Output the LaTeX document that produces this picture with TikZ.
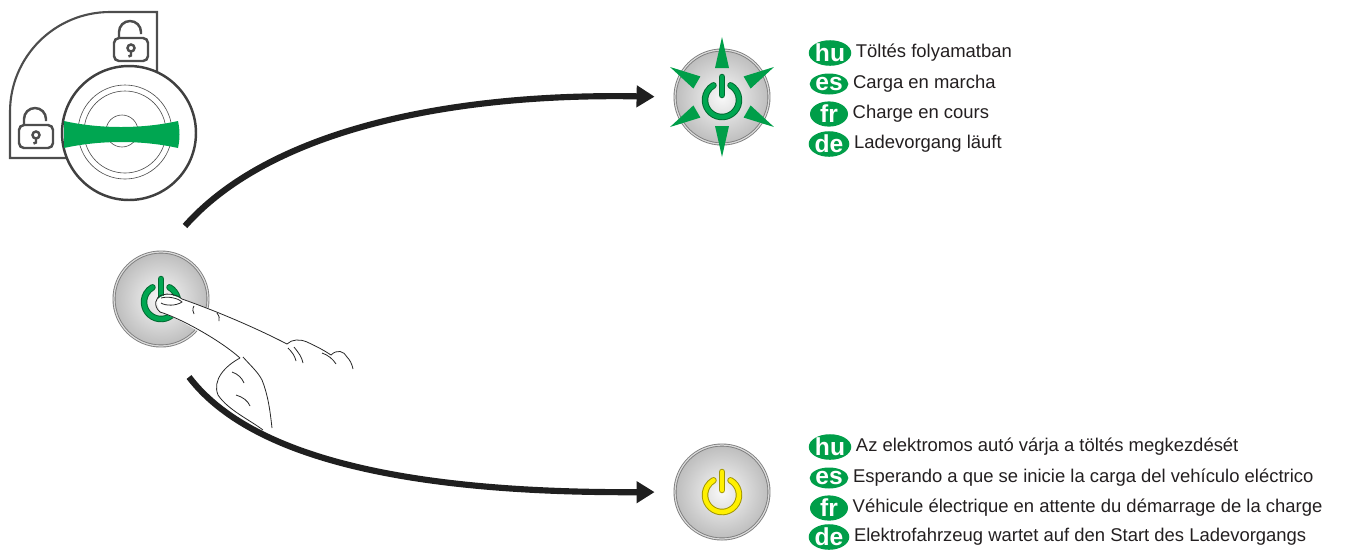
\documentclass[tikz,border=0pt]{standalone}
\usepackage{fontspec}
\setmainfont{Liberation Sans}
\usetikzlibrary{arrows.meta, positioning, shapes.geometric}
\definecolor{chargegreen}{RGB}{0, 158, 73}
\definecolor{keygreen}{RGB}{0, 166, 81}
\definecolor{darkgreen}{RGB}{0, 105, 48}
\definecolor{waityellow}{RGB}{255, 240, 0}
\definecolor{darkyellow}{RGB}{160, 148, 0}
\definecolor{textgray}{RGB}{35, 31, 32}
\definecolor{linegray}{RGB}{77, 77, 77}
\definecolor{ringgray}{RGB}{125, 125, 125}
\tikzset{
  flowarrow/.style={-{Triangle[length=3.6mm, width=4.2mm]}, line width=3.5pt, black!88},
  button/.style={circle, minimum size=1.88cm, inner sep=0pt, draw=ringgray, line width=0.5pt,
    double=gray!30, double distance=0.7pt, inner color=gray!5, outer color=gray!52},
  pwrgreen/.style={draw=darkgreen, double=keygreen, line width=0.55pt, double distance=2.6pt, line cap=round},
  pwryellow/.style={draw=darkyellow, double=waityellow, line width=0.55pt, double distance=2.6pt, line cap=round},
  keyline/.style={draw=linegray, line width=1.2pt},
  lockline/.style={draw=linegray, line width=1.4pt},
  thinring/.style={draw=linegray, line width=0.35pt},
  handline/.style={draw=black!85, line width=0.45pt},
  badge/.style={ellipse, fill=chargegreen, minimum width=0.76cm, minimum height=0.42cm, inner sep=0pt,
    text=white, font=\fontsize{14}{14}\selectfont\bfseries},
  caption/.style={inner sep=0pt, text=textgray, font=\fontsize{10.5}{12}\selectfont},
  padlock/.pic={
    \draw[lockline, rounded corners=0.1cm] (-17,-11) rectangle (17,12);
    \draw[lockline] (-12,-11) -- (-12,-17) arc[start angle=180, end angle=360, radius=11] -- (10,-15);
    \draw[lockline] (0,-1) circle[radius=3.5];
    \draw[lockline] (0,2.5) -- (0,6.5) -- (-2.5,7.5);
  }
}
\begin{document}
\begin{tikzpicture}[x=0.02cm, y=-0.02cm]
    \useasboundingbox (0,0) rectangle (1345,549);

    % key switch with lock positions
    \draw[keyline] (157,72) -- (157,12) -- (110,12) arc[start angle=-90, end angle=-180, radius=100] -- (10,158) -- (67,158);
    \pic at (131,49) {padlock};
    \pic at (36,136) {padlock};
    \node (dial) [circle, draw=black!75, line width=1.4pt, fill=white, minimum size=2.68cm, inner sep=0pt] at (129,133) {};
    \draw[thinring] (125,132) circle[radius=47];
    \draw[thinring] (125,132) circle[radius=41];
    \draw[thinring] (122,131) circle[radius=16];
    \fill[keygreen] (64,121) .. controls (100,129) and (142,129) .. (178,121)
        .. controls (180,130) and (180,139) .. (178,148)
        .. controls (142,140) and (100,140) .. (64,148) -- cycle;

    % buttons
    \node (start) [button] at (161,299) {};
    \node (glow) [button] at (722,97) {};
    \node (wait) [button] at (722,492) {};

    \draw[pwrgreen] (start.center) ++(8.5,-11.7) arc[start angle=-60, end angle=240, radius=17];
    \draw[pwrgreen] (start.center) ++(0,-20) -- ++(0,18);
    \draw[pwrgreen] (glow.center) ++(8.5,-11.7) arc[start angle=-60, end angle=240, radius=17];
    \draw[pwrgreen] (glow.center) ++(0,-20) -- ++(0,18);
    \draw[pwryellow] (wait.center) ++(8.5,-11.7) arc[start angle=-60, end angle=240, radius=17];
    \draw[pwryellow] (wait.center) ++(0,-20) -- ++(0,18);

    % light rays around the charging button
    \foreach \a in {30,90,...,330}
        \fill[chargegreen] [shift={(glow.center)}, rotate=\a] (60,0) -- (29,7) -- (29,-7) -- cycle;

    % hand pressing the button
    \fill[white] (157,302) .. controls (158,294) and (172,293) .. (182,299)
        .. controls (230,315) and (270,334) .. (290,342) -- (307,342) -- (352,367)
        -- (335,400) -- (262,430)
        .. controls (240,418) and (212,400) .. (218,380)
        .. controls (222,368) and (234,361) .. (240,358)
        .. controls (215,342) and (180,318) .. (160,312) -- cycle;
    \draw[handline] (160,312) .. controls (153,306) and (155,297) .. (162,295)
        .. controls (168,293) and (176,294) .. (182,299)
        .. controls (222,313) and (262,331) .. (287,344);
    \draw[handline] (161,298) .. controls (168,296) and (178,298) .. (182,302)
        .. controls (176,306) and (166,306) .. (161,303);
    \draw[handline] (160,312) .. controls (180,318) and (220,340) .. (240,358);
    \draw[handline] (287,344) .. controls (292,339) and (300,339) .. (307,342)
        .. controls (318,347) and (325,351) .. (331,355)
        .. controls (337,349) and (344,351) .. (347,357)
        .. controls (350,360) and (352,364) .. (353,369);
    \draw[handline] (240,358) .. controls (225,366) and (212,380) .. (218,395)
        .. controls (228,410) and (250,420) .. (263,430);
    \draw[handline] (243,357) .. controls (250,365) and (258,372) .. (262,380)
        .. controls (268,395) and (270,410) .. (272,428);
    \draw[handline] (194,306) .. controls (192,309) and (193,312) .. (194,314);
    \draw[handline] (217,313) .. controls (219,316) and (220,318) .. (219,321);
    \draw[handline] (288,348) .. controls (292,352) and (295,356) .. (296,361);
    \draw[handline] (294,347) .. controls (298,352) and (302,357) .. (303,363);
    \draw[handline] (322,353) .. controls (328,355) and (333,359) .. (336,364);
    \draw[handline] (232,372) .. controls (238,374) and (242,378) .. (244,383);
    \draw[handline] (236,395) .. controls (243,397) and (248,401) .. (250,406);

    % state transitions
    \coordinate (upstart) at (185,226);
    \coordinate (downstart) at (189,377);
    \draw[flowarrow, shorten >=0.4cm] (upstart) .. controls (270,130) and (450,93) .. (glow.west);
    \draw[flowarrow, shorten >=0.4cm] (downstart) .. controls (260,470) and (450,493) .. (wait.west);

    % charging in progress
    \node (hu1) [badge] at (830,53) {hu};
    \node (es1) [badge] at (829,84) {es};
    \node (fr1) [badge] at (829,114) {fr};
    \node (de1) [badge] at (829,144) {de};
    \node [caption, right=0.08cm of hu1] {Töltés folyamatban};
    \node [caption, right=0.08cm of es1] {Carga en marcha};
    \node [caption, right=0.08cm of fr1] {Charge en cours};
    \node [caption, right=0.08cm of de1] {Ladevorgang läuft};

    % waiting for the vehicle
    \node (hu2) [badge] at (830,447) {hu};
    \node (es2) [badge] at (829,478) {es};
    \node (fr2) [badge] at (829,508) {fr};
    \node (de2) [badge] at (829,537) {de};
    \node [caption, right=0.08cm of hu2] {Az elektromos autó várja a töltés megkezdését};
    \node [caption, right=0.08cm of es2] {Esperando a que se inicie la carga del vehículo eléctrico};
    \node [caption, right=0.08cm of fr2] {Véhicule électrique en attente du démarrage de la charge};
    \node [caption, right=0.08cm of de2] {Elektrofahrzeug wartet auf den Start des Ladevorgangs};
\end{tikzpicture}
\end{document}
